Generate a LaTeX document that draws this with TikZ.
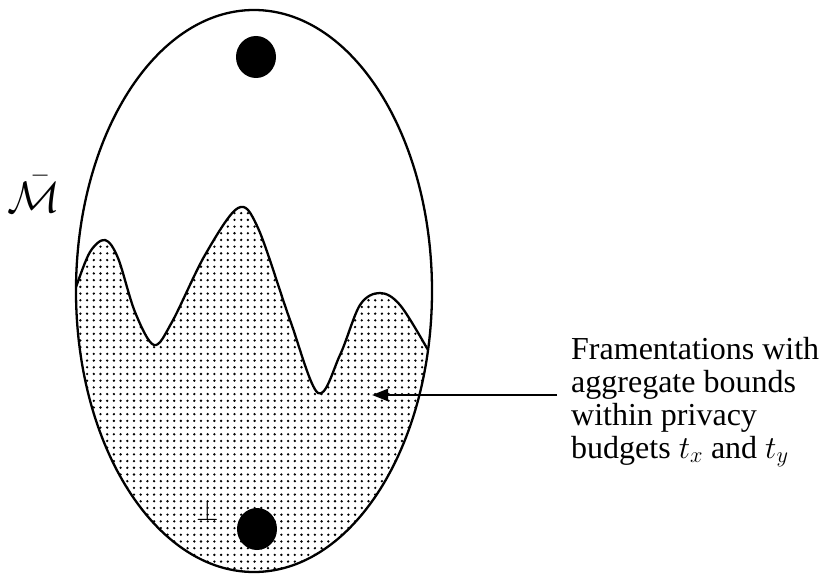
\RequirePackage{fix-cm}
\documentclass[tikz,border=0pt]{standalone}
\usepackage{fontspec}
\setmainfont{Liberation Serif}
\usetikzlibrary{patterns.meta,arrows.meta,shapes.geometric}
\tikzset{
  outline/.style={line width=2.3pt},
  blob/.style={ellipse, fill=black, inner sep=0pt, minimum width=40pt, minimum height=42pt},
  desc/.style={anchor=base west, inner sep=0pt, font=\fontsize{32}{33}\selectfont},
  dotfill/.style={pattern={Dots[distance=6.7pt, radius=1.3pt]}, pattern color=black}
}
\begin{document}
\begin{tikzpicture}[x=1pt,y=-1pt]
\useasboundingbox (0,0) rectangle (825,575);
% dotted region under the wave, clipped to the ellipse
\begin{scope}
  \clip (254,291) ellipse [x radius=178, y radius=281];
  \fill[dotfill] plot[smooth, tension=0.55] coordinates {(70,305) (76,287) (90,252) (105,240) (118,258) (135,312) (154,345) (172,322) (205,255) (238,208) (258,228) (290,320) (318,393) (340,355) (360,305) (380,293) (400,305) (428,350) (440,375)} -- (445,590) -- (60,590) -- cycle;
  \draw[outline] plot[smooth, tension=0.55] coordinates {(70,305) (76,287) (90,252) (105,240) (118,258) (135,312) (154,345) (172,322) (205,255) (238,208) (258,228) (290,320) (318,393) (340,355) (360,305) (380,293) (400,305) (428,350) (440,375)};
\end{scope}
\draw[outline] (254,291) ellipse [x radius=178, y radius=281];
\node[blob] (top) at (256,57) {};
\node[blob] (bottom) at (257,529) {};
\node[inner sep=0pt, font=\fontsize{29}{30}\selectfont] (bot) at (208,510) {$\bot$};
\node[anchor=base, inner sep=0pt, font=\fontsize{44}{46}\selectfont] (mbar) at (34,212) {$\bar{\mathcal{M}}$};
\node[desc] (l1) at (571,359) {Framentations with};
\node[desc] (l2) at (571,392) {aggregate bounds};
\node[desc] (l3) at (571,425) {within privacy};
\node[desc] (l4) at (571,458) {budgets $t_x$ and $t_y$};
\coordinate (astart) at (557,395);
\coordinate (aend) at (372,395);
\draw[line width=2.2pt, -{Triangle[length=16pt,width=12pt]}] (astart) -- (aend);
\end{tikzpicture}
\end{document}
